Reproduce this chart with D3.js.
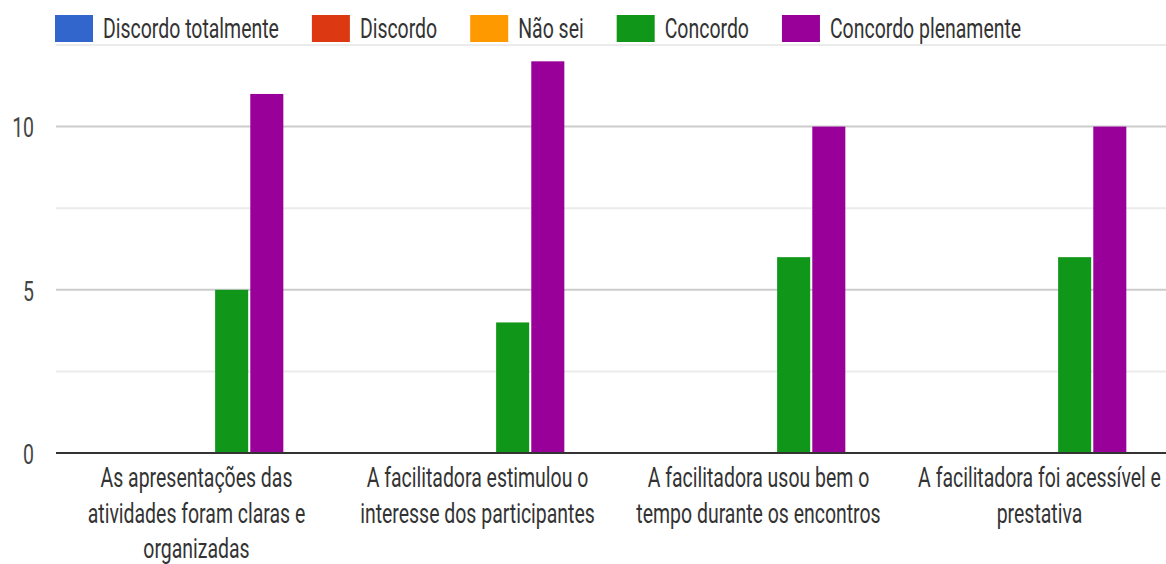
<!DOCTYPE html>
<html>
<head>
<meta charset="utf-8">
<script src="https://cdn.jsdelivr.net/npm/d3@7"></script>
<style>
  html, body { margin: 0; padding: 0; background: #fff; }
  svg { display: block; }
  text { font-family: Roboto, "Noto Sans", sans-serif; }
</style>
</head>
<body>
<svg id="chart" width="1166" height="564"></svg>
<script>
// Categories (statements evaluated)
const categories = [
  "As apresentações das atividades foram claras e organizadas",
  "A facilitadora estimulou o interesse dos participantes",
  "A facilitadora usou bem o tempo durante os encontros",
  "A facilitadora foi acessível e prestativa"
];

// Answer options (legend order)
const seriesNames = ["Discordo totalmente", "Discordo", "Não sei", "Concordo", "Concordo plenamente"];
const seriesColors = ["#3366cc", "#dc3912", "#ff9900", "#109618", "#990099"];

// Response counts per option, one value per category
const discordoTotalmente = [0, 0, 0, 0];
const discordo           = [0, 0, 0, 0];
const naoSei             = [0, 0, 0, 0];
const concordo           = [5, 4, 6, 6];
const concordoPlenamente = [11, 12, 10, 10];

// Axis ticks
const yTickLabels = [0, 5, 10];
const yGridValues = [0, 2.5, 5, 7.5, 10, 12.5];

const seriesValues = [discordoTotalmente, discordo, naoSei, concordo, concordoPlenamente];

const svg = d3.select("#chart");
const W = 1166, H = 564;
const FONT = 28.5;

// Narrow text rendering: horizontal compression applied to all labels
const probe = svg.append("text").attr("font-size", FONT).text("Discordo totalmente");
const SX = 176 / probe.node().getComputedTextLength();
probe.remove();

function addText(sel, x, y, str, anchor, size, fill) {
  return sel.append("text")
    .attr("transform", `translate(${x},${y}) scale(${SX},1)`)
    .attr("text-anchor", anchor)
    .attr("font-size", size)
    .attr("fill", fill)
    .text(str);
}

const plot = { left: 56, right: 1180, top: 45, bottom: 453 };

const y = d3.scaleLinear().domain([0, 12.5]).range([plot.bottom, plot.top]);
const x0 = d3.scaleBand().domain(d3.range(categories.length)).range([plot.left, plot.right]);
const groupW = x0.bandwidth() * 0.618;
const x1 = d3.scaleBand().domain(d3.range(seriesNames.length)).range([0, groupW]).paddingInner(0.06);

// Gridlines
svg.append("g").selectAll("line").data(yGridValues.filter(v => v !== 0)).join("line")
  .attr("x1", plot.left).attr("x2", W)
  .attr("y1", d => y(d)).attr("y2", d => y(d))
  .attr("stroke", d => (d % 5 === 0) ? "#cccccc" : "#ebebeb")
  .attr("stroke-width", 2);

// Y tick labels
const yAxis = d3.axisLeft(y).tickValues(yTickLabels).tickSize(0).tickPadding(0);
const gy = svg.append("g").attr("transform", `translate(34,0)`).call(yAxis);
gy.select(".domain").remove();
gy.selectAll(".tick text").remove();
gy.selectAll(".tick").each(function(d) {
  addText(d3.select(this), 0, FONT * 0.36, String(d), "end", FONT, "#444");
});

// Bars
const groups = svg.append("g").selectAll("g").data(categories.map((c, i) => i)).join("g")
  .attr("transform", i => `translate(${x0(i) + (x0.bandwidth() - groupW) / 2},0)`);

groups.selectAll("rect")
  .data(i => seriesValues.map((vals, s) => ({ s, v: vals[i] })).filter(d => d.v > 0))
  .join("rect")
  .attr("x", d => x1(d.s))
  .attr("width", x1.bandwidth())
  .attr("y", d => y(d.v))
  .attr("height", d => y(0) - y(d.v))
  .attr("fill", d => seriesColors[d.s]);

// Baseline
svg.append("line")
  .attr("x1", plot.left).attr("x2", W)
  .attr("y1", y(0)).attr("y2", y(0))
  .attr("stroke", "#333").attr("stroke-width", 2);

// Category labels, wrapped to fit the band
function wrapWords(str, maxW) {
  const words = str.split(" ");
  const lines = [];
  let cur = "";
  const t = svg.append("text").attr("font-size", FONT);
  words.forEach(w => {
    const trial = cur ? cur + " " + w : w;
    t.text(trial);
    if (cur && t.node().getComputedTextLength() * SX > maxW) {
      lines.push(cur);
      cur = w;
    } else {
      cur = trial;
    }
  });
  if (cur) lines.push(cur);
  t.remove();
  return lines;
}

const xl = svg.append("g");
categories.forEach((c, i) => {
  const cx = x0(i) + x0.bandwidth() / 2;
  wrapWords(c, 258).forEach((line, k) => {
    addText(xl, cx, 487 + k * 35.5, line, "middle", FONT, "#333");
  });
});

// Legend
const lg = svg.append("g");
let lx = 55;
seriesNames.forEach((name, s) => {
  lg.append("rect")
    .attr("x", lx).attr("y", 15)
    .attr("width", 38).attr("height", 27)
    .attr("fill", seriesColors[s]);
  const t = addText(lg, lx + 48, 38, name, "start", FONT, "#333");
  const w = t.node().getComputedTextLength() * SX;
  lx += 48 + w + 33;
});
</script>
</body>
</html>
